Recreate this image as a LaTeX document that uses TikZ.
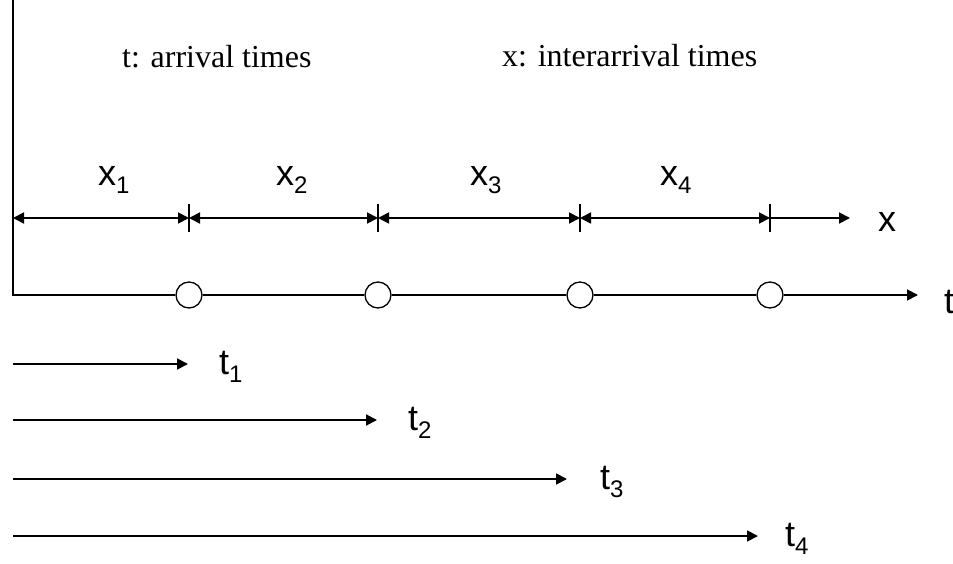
\documentclass[tikz,border=0pt]{standalone}
\usepackage{fontspec}
\setmainfont{Liberation Serif}
\newfontfamily\labelfont{Liberation Sans}
\usetikzlibrary{arrows.meta}
\newcommand\AxisY{295}
\newcommand\BarY{218}
\newcommand\Sub[1]{\raisebox{-8pt}{\fontsize{24}{24}\selectfont #1}}
\tikzset{
  axis/.style={
    line width = 1.8pt,
    line join = miter
  },
  interval/.style={
    line width = 1.8pt,
    {Triangle[length=11pt,width=11pt]}-{Triangle[length=11pt,width=11pt]}
  },
  ray/.style={
    line width = 1.8pt,
    -{Triangle[length=11pt,width=11pt]}
  },
  tick/.style={
    line width = 1.4pt
  },
  event/.style={
    shape = circle,
    draw,
    fill = white,
    line width = 1.3pt,
    minimum size = 26pt,
    inner sep = 0pt
  },
  lab/.style={
    font = \labelfont\fontsize{36}{40}\selectfont,
    anchor = base west,
    inner sep = 0pt
  },
  note/.style={
    font = \fontsize{32}{36}\selectfont,
    anchor = base west,
    inner sep = 0pt
  }
}

\begin{document}
\begin{tikzpicture}[x=1pt,y=-1pt]
\useasboundingbox (0,0) rectangle (953,564);

       \node[note] (tnote) at (122,68) {t: arrival times};
       \node[note] (xnote) at (502,67) {x: interarrival times};

       % time axis with the arrivals
       \coordinate (top) at (13,0);
       \coordinate (origin) at (13,\AxisY);
       \coordinate (tend) at (918,\AxisY);
       \node[event] (ev1) at (189,\AxisY) {};
       \node[event] (ev2) at (378,\AxisY) {};
       \node[event] (ev3) at (580,\AxisY) {};
       \node[event] (ev4) at (770,\AxisY) {};

       \draw[axis] (top) -- (origin) -- (ev1);
       \draw[axis] (ev1) -- (ev2);
       \draw[axis] (ev2) -- (ev3);
       \draw[axis] (ev3) -- (ev4);
       \draw[ray] (ev4) -- (tend);
       \node[lab] (tlab) at (944,313) {t};

       % interarrival intervals
       \coordinate (k0) at (13,\BarY);
       \coordinate (k1) at (189,\BarY);
       \coordinate (k2) at (378,\BarY);
       \coordinate (k3) at (580,\BarY);
       \coordinate (k4) at (770,\BarY);
       \coordinate (xend) at (850,\BarY);

       \draw[tick] ([yshift=-14pt]k1) -- ([yshift=14pt]k1);
       \draw[tick] ([yshift=-14pt]k2) -- ([yshift=14pt]k2);
       \draw[tick] ([yshift=-14pt]k3) -- ([yshift=14pt]k3);
       \draw[tick] ([yshift=-14pt]k4) -- ([yshift=14pt]k4);

       \draw[interval] (k0) -- (k1);
       \draw[interval] (k1) -- (k2);
       \draw[interval] (k2) -- (k3);
       \draw[interval] (k3) -- (k4);
       \draw[ray] (k4) -- (xend);

       \node[lab] (x1) at (98,186) {x\Sub{1}};
       \node[lab] (x2) at (276,186) {x\Sub{2}};
       \node[lab] (x3) at (470,186) {x\Sub{3}};
       \node[lab] (x4) at (660,186) {x\Sub{4}};
       \node[lab] (xlab) at (878,232) {x};

       % arrival times from the origin
       \coordinate (s1) at (13,364);
       \coordinate (e1) at (188,364);
       \coordinate (s2) at (13,420);
       \coordinate (e2) at (377,420);
       \coordinate (s3) at (13,479);
       \coordinate (e3) at (567,479);
       \coordinate (s4) at (13,536);
       \coordinate (e4) at (758,536);

       \draw[ray] (s1) -- (e1);
       \draw[ray] (s2) -- (e2);
       \draw[ray] (s3) -- (e3);
       \draw[ray] (s4) -- (e4);

       \node[lab] (t1) at (219,374) {t\Sub{1}};
       \node[lab] (t2) at (408,430) {t\Sub{2}};
       \node[lab] (t3) at (600,489) {t\Sub{3}};
       \node[lab] (t4) at (785,546) {t\Sub{4}};
\end{tikzpicture}
\end{document}
